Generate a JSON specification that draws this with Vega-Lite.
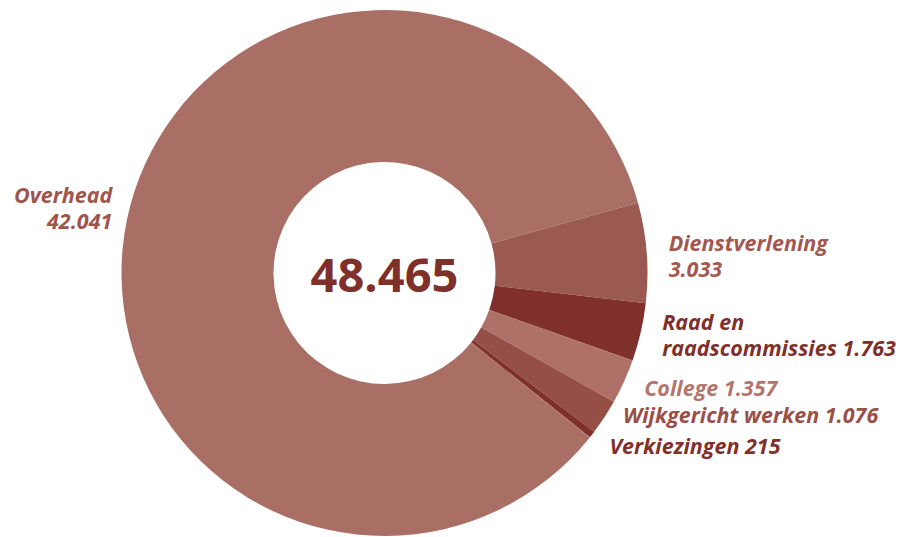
{
  "$schema": "https://vega.github.io/schema/vega-lite/v6.json",
  "autosize": {"type": "none"},
  "padding": {"left": 0, "top": 0, "right": 137, "bottom": 0},
  "width": 769,
  "height": 546,
  "background": "white",
  "config": {"view": {"stroke": null}},
  "data": {"values": [
    {"category": "Overhead", "value": 42041, "label": "Overhead\n42.041"},
    {"category": "Dienstverlening", "value": 3033, "label": "Dienstverlening\n3.033"},
    {"category": "Raad en raadscommissies", "value": 1763, "label": "Raad en\nraadscommissies 1.763"},
    {"category": "College", "value": 1357, "label": "College 1.357"},
    {"category": "Wijkgericht werken", "value": 1076, "label": "Wijkgericht werken 1.076"},
    {"category": "Verkiezingen", "value": 215, "label": "Verkiezingen 215"}
  ]},
  "encoding": {
    "theta": {"field": "value", "type": "quantitative", "stack": true, "scale": {"range": [2.246, 8.529]}},
    "order": {"field": "value", "type": "quantitative", "sort": "descending"}
  },
  "layer": [
    {
      "mark": {"type": "arc", "radius": 263, "innerRadius": 111, "stroke": null},
      "encoding": {
        "color": {
          "field": "category", "type": "nominal", "legend": null,
          "scale": {
            "domain": ["Overhead", "Dienstverlening", "Raad en raadscommissies", "College", "Wijkgericht werken", "Verkiezingen"],
            "range": ["#a96e64", "#9b5a51", "#80302b", "#ad7167", "#964f47", "#80302b"]
          }
        }
      }
    },
    {
      "mark": {"type": "text", "radius": 285, "align": "right", "baseline": "middle", "lineBreak": "\n", "lineHeight": 26, "font": "Open Sans", "fontSize": 21.5, "fontWeight": "bold", "fontStyle": "italic", "dx": 7, "dy": -19},
      "encoding": {
        "text": {"condition": {"test": "datum.category === 'Overhead'", "field": "label"}, "value": ""},
        "color": {"value": "#a0544c"}
      }
    },
    {
      "mark": {"type": "text", "radius": 285, "align": "left", "baseline": "middle", "lineBreak": "\n", "lineHeight": 26, "font": "Open Sans", "fontSize": 21.5, "fontWeight": "bold", "fontStyle": "italic", "dy": -6},
      "encoding": {
        "text": {"condition": {"test": "datum.category === 'Dienstverlening'", "field": "label"}, "value": ""},
        "color": {"value": "#a4574f"}
      }
    },
    {
      "mark": {"type": "text", "radius": 285, "align": "left", "baseline": "middle", "lineBreak": "\n", "lineHeight": 26, "font": "Open Sans", "fontSize": 21.5, "fontWeight": "bold", "fontStyle": "italic", "dy": -13},
      "encoding": {
        "text": {"condition": {"test": "datum.category === 'Raad en raadscommissies'", "field": "label"}, "value": ""},
        "color": {"value": "#80302b"}
      }
    },
    {
      "mark": {"type": "text", "radius": 285, "align": "left", "baseline": "middle", "font": "Open Sans", "fontSize": 21.5, "fontWeight": "bold", "fontStyle": "italic"},
      "encoding": {
        "text": {"condition": {"test": "datum.category === 'College' || datum.category === 'Verkiezingen'", "field": "label"}, "value": ""},
        "color": {
          "field": "category", "type": "nominal", "legend": null,
          "scale": {
            "domain": ["College", "Verkiezingen"],
            "range": ["#b3766d", "#80302b"]
          }
        }
      }
    },
    {
      "mark": {"type": "text", "radius": 285, "align": "left", "baseline": "middle", "font": "Open Sans", "fontSize": 21.5, "fontWeight": "bold", "fontStyle": "italic", "dy": -12},
      "encoding": {
        "text": {"condition": {"test": "datum.category === 'Wijkgericht werken'", "field": "label"}, "value": ""},
        "color": {"value": "#9a4f48"}
      }
    },
    {
      "data": {"values": [{"total": "48.465"}]},
      "mark": {"type": "text", "align": "center", "baseline": "middle", "font": "Open Sans", "fontSize": 47, "fontWeight": "bold", "color": "#80302b", "dy": 5},
      "encoding": {
        "theta": null,
        "order": null,
        "text": {"field": "total", "type": "nominal"}
      }
    }
  ],
  "resolve": {"scale": {"color": "independent"}}
}
